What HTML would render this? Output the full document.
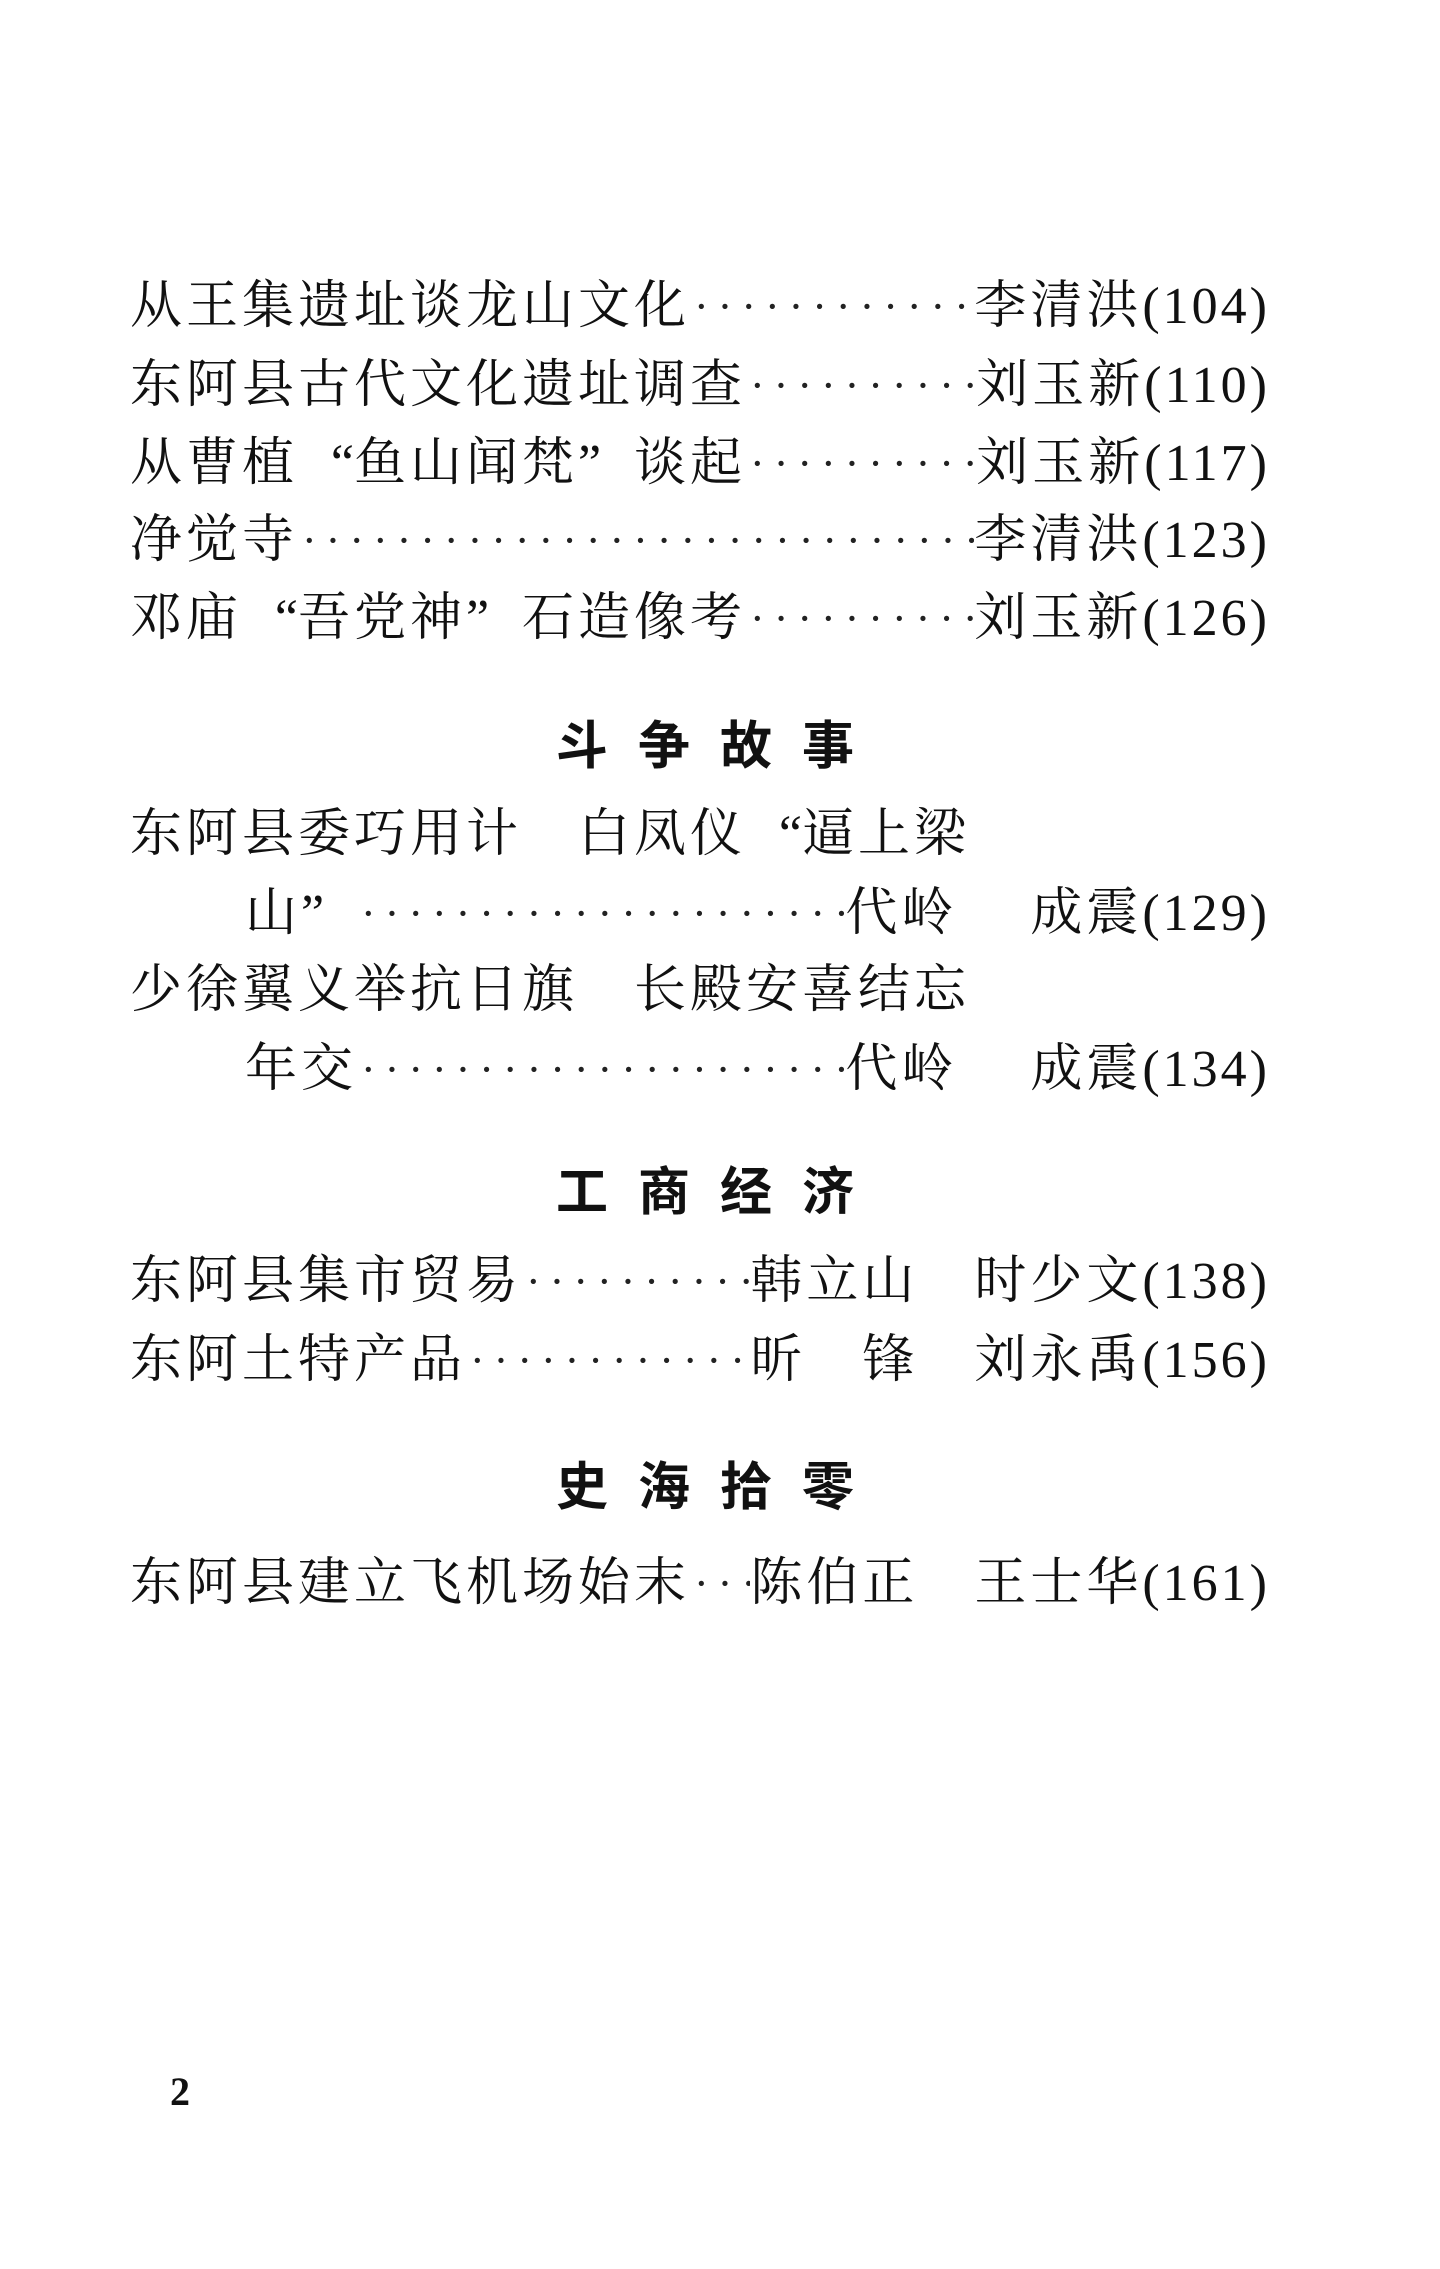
<!DOCTYPE html>
<html><head><meta charset="utf-8"><style>
html,body{margin:0;padding:0;background:#fff;}
body{width:1440px;height:2269px;position:relative;overflow:hidden;
font-family:"Liberation Serif","Noto Serif CJK SC","Noto Sans CJK SC",serif;color:#111;}
.l{position:absolute;left:130px;width:1140px;height:64px;line-height:64px;font-size:52px;
display:flex;white-space:nowrap;letter-spacing:4px;}
.l .t{flex:none;}
.l .d{flex:1;overflow:hidden;letter-spacing:9px;font-size:44px;color:#222;padding-left:4px;}
.l .a{flex:none;}
.h{position:absolute;left:0;width:1440px;text-align:center;font-size:52px;font-weight:bold;
letter-spacing:30px;height:64px;line-height:64px;font-family:"Noto Sans CJK SC","WenQuanYi Zen Hei",sans-serif;}
.p{font-family:"Liberation Serif",serif;letter-spacing:3px;}
.qo{display:inline-block;width:56px;text-align:right;letter-spacing:0;}
.qc{display:inline-block;width:56px;text-align:left;letter-spacing:0;}
</style></head><body>
<div class="l" style="top:275px"><span class="t">从王集遗址谈龙山文化</span><span class="d">··········································</span><span class="a">李清洪<span class="p">(104)</span></span></div>
<div class="l" style="top:354px"><span class="t">东阿县古代文化遗址调查</span><span class="d">··········································</span><span class="a">刘玉新<span class="p">(110)</span></span></div>
<div class="l" style="top:432px"><span class="t">从曹植<span class="qo">“</span>鱼山闻梵<span class="qc">”</span>谈起</span><span class="d">··········································</span><span class="a">刘玉新<span class="p">(117)</span></span></div>
<div class="l" style="top:509px"><span class="t">净觉寺</span><span class="d">··························································································</span><span class="a">李清洪<span class="p">(123)</span></span></div>
<div class="l" style="top:587px"><span class="t">邓庙<span class="qo">“</span>吾党神<span class="qc">”</span>石造像考</span><span class="d">··········································</span><span class="a">刘玉新<span class="p">(126)</span></span></div>

<div class="h" style="top:710px">斗争故事</div>

<div class="l" style="top:803px"><span class="t">东阿县委巧用计　白凤仪<span class="qo">“</span>逼上梁</span></div>
<div class="l" style="top:882px;left:245px;width:1025px"><span class="t">山<span class="qc">”</span></span><span class="d">··························································································</span><span class="a">代岭　 成震<span class="p">(129)</span></span></div>
<div class="l" style="top:959px"><span class="t">少徐翼义举抗日旗　长殿安喜结忘</span></div>
<div class="l" style="top:1038px;left:245px;width:1025px"><span class="t">年交</span><span class="d">··························································································</span><span class="a">代岭　 成震<span class="p">(134)</span></span></div>

<div class="h" style="top:1156px">工商经济</div>

<div class="l" style="top:1250px"><span class="t">东阿县集市贸易</span><span class="d">··········································</span><span class="a">韩立山　时少文<span class="p">(138)</span></span></div>
<div class="l" style="top:1329px"><span class="t">东阿土特产品</span><span class="d">··········································</span><span class="a">昕　锋　刘永禹<span class="p">(156)</span></span></div>

<div class="h" style="top:1451px">史海拾零</div>

<div class="l" style="top:1552px"><span class="t">东阿县建立飞机场始末</span><span class="d">······</span><span class="a">陈伯正　王士华<span class="p">(161)</span></span></div>

<div style="position:absolute;left:170px;top:2068px;font-size:40px;font-weight:bold;font-family:'Liberation Serif',serif;">2</div>
</body></html>
